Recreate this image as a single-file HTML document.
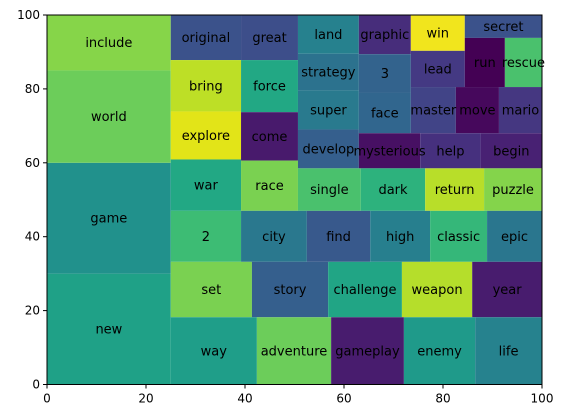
<!DOCTYPE html>
<html><head><meta charset="utf-8"><style>
body{margin:0;background:#fff}
svg{display:block;font-family:"DejaVu Sans","Liberation Sans",sans-serif}
</style></head><body>
<svg id="chart" width="565" height="418" viewBox="0 0 565 418"></svg>
<script>
const labels=["new","game","world","include","original","bring","explore","war","great","force","come","race","land","strategy","super","develop","graphic","3","face","win","lead","secret","run","rescue","master","move","mario","mysterious","help","begin","single","dark","return","puzzle","2","city","find","high","classic","epic","set","story","challenge","weapon","year","way","adventure","gameplay","enemy","life"];
const xs=[0,0,0,0,25,25,25,25,39.2,39.2,39.2,39.2,50.7,50.7,50.7,50.7,63,63,63,73.5,73.5,84.4,84.4,92.5,73.5,82.6,91.3,63,75.4,87.6,50.7,63.4,76.4,88.3,25,39.2,52.5,65.3,77.4,88.9,25,41.4,56.8,71.7,85.9,25,42.4,57.4,72.1,86.5];
const ys=[0,30,60,85,87.8,73.9,60.9,47,87.8,73.7,60.6,47,89.5,79.6,69,58.5,89.4,78.9,68,90.3,80.5,93.8,80.5,80.5,68,68,68,58.5,58.5,58.5,47,47,47,47,33.2,33.2,33.2,33.2,33.2,33.2,18.2,18.2,18.2,18.2,18.2,0,0,0,0,0];
const ws=[25,25,25,25,14.2,14.2,14.2,14.2,11.5,11.5,11.5,11.5,12.3,12.3,12.3,12.3,10.5,10.5,10.5,10.9,10.9,15.6,8.1,7.5,9.1,8.7,8.7,12.4,12.2,12.4,12.7,13,11.9,11.7,14.2,13.3,12.8,12.1,11.5,11.1,16.4,15.4,14.9,14.2,14.1,17.4,15,14.7,14.4,13.5];
const hs=[30,30,25,15,12.2,13.9,13,13.9,12.2,14.1,13.1,13.6,10.5,9.9,10.6,10.5,10.6,10.5,10.9,9.7,9.8,6.2,13.3,13.3,12.5,12.5,12.5,9.5,9.5,9.5,11.5,11.5,11.5,11.5,13.8,13.8,13.8,13.8,13.8,13.8,15,15,15,15,15,18.2,18.2,18.2,18.2,18.2];
const colors=["#1fa187","#21918c","#6ccd5a","#86d549","#3b528b","#bddf26","#e2e418","#22a884","#3d4e8a","#22a884","#481a6c","#7ad151","#26818e","#2c728e","#297a8e","#355f8d","#472d7b","#33638d","#31668e","#f1e51d","#443983","#3b528b","#440154","#4ac16d","#414487","#46085c","#453781","#471063","#46307e","#482173","#4ac16d","#2db27d","#b8de29","#84d44b","#3dbc74","#2a788e","#38598c","#277f8e","#35b779","#2a768e","#7ad151","#355f8d","#21a585","#b5de2b","#481c6e","#1f9e89","#6ccd5a","#481c6e","#1f9a8a","#26828e"];
const ticks=[0,20,40,60,80,100];
const L=47,R=542,T=15,B=384.5;
const sx=v=>L+(v/100)*(R-L);
const sy=v=>B-(v/100)*(B-T);
const NS="http://www.w3.org/2000/svg";
const svg=document.getElementById('chart');
function mk(t,a){const e=document.createElementNS(NS,t);for(const k in a)e.setAttribute(k,a[k]);return e;}
labels.forEach((lab,i)=>{
  const r=mk('rect',{x:sx(xs[i]),y:sy(ys[i]+hs[i]),width:sx(xs[i]+ws[i])-sx(xs[i]),height:sy(ys[i])-sy(ys[i]+hs[i]),fill:colors[i]});
  
  
  svg.appendChild(r);
});
labels.forEach((lab,i)=>{
  const t=mk('text',{x:sx(xs[i]+ws[i]/2),y:sy(ys[i]+hs[i]/2)+4.5,'text-anchor':'middle','font-size':'13',fill:'#000'});
  t.textContent=lab;
  
  
  svg.appendChild(t);
});
const frame=mk('rect',{x:L,y:T,width:R-L,height:B-T,fill:'none',stroke:'#000','stroke-width':1});


svg.appendChild(frame);
ticks.forEach(v=>{
  const xt=mk('line',{x1:sx(v),x2:sx(v),y1:B,y2:B+4,stroke:'#000'});
  
  
  svg.appendChild(xt);
  const xl=mk('text',{x:sx(v),y:B+18,'text-anchor':'middle','font-size':'12'});
  xl.textContent=v;
  
  
  svg.appendChild(xl);
  const yt=mk('line',{x1:L-4,x2:L,y1:sy(v),y2:sy(v),stroke:'#000'});
  
  
  svg.appendChild(yt);
  const yl=mk('text',{x:L-7,y:sy(v)+4,'text-anchor':'end','font-size':'12'});
  yl.textContent=v;
  
  
  svg.appendChild(yl);
});
</script>
</body></html>
